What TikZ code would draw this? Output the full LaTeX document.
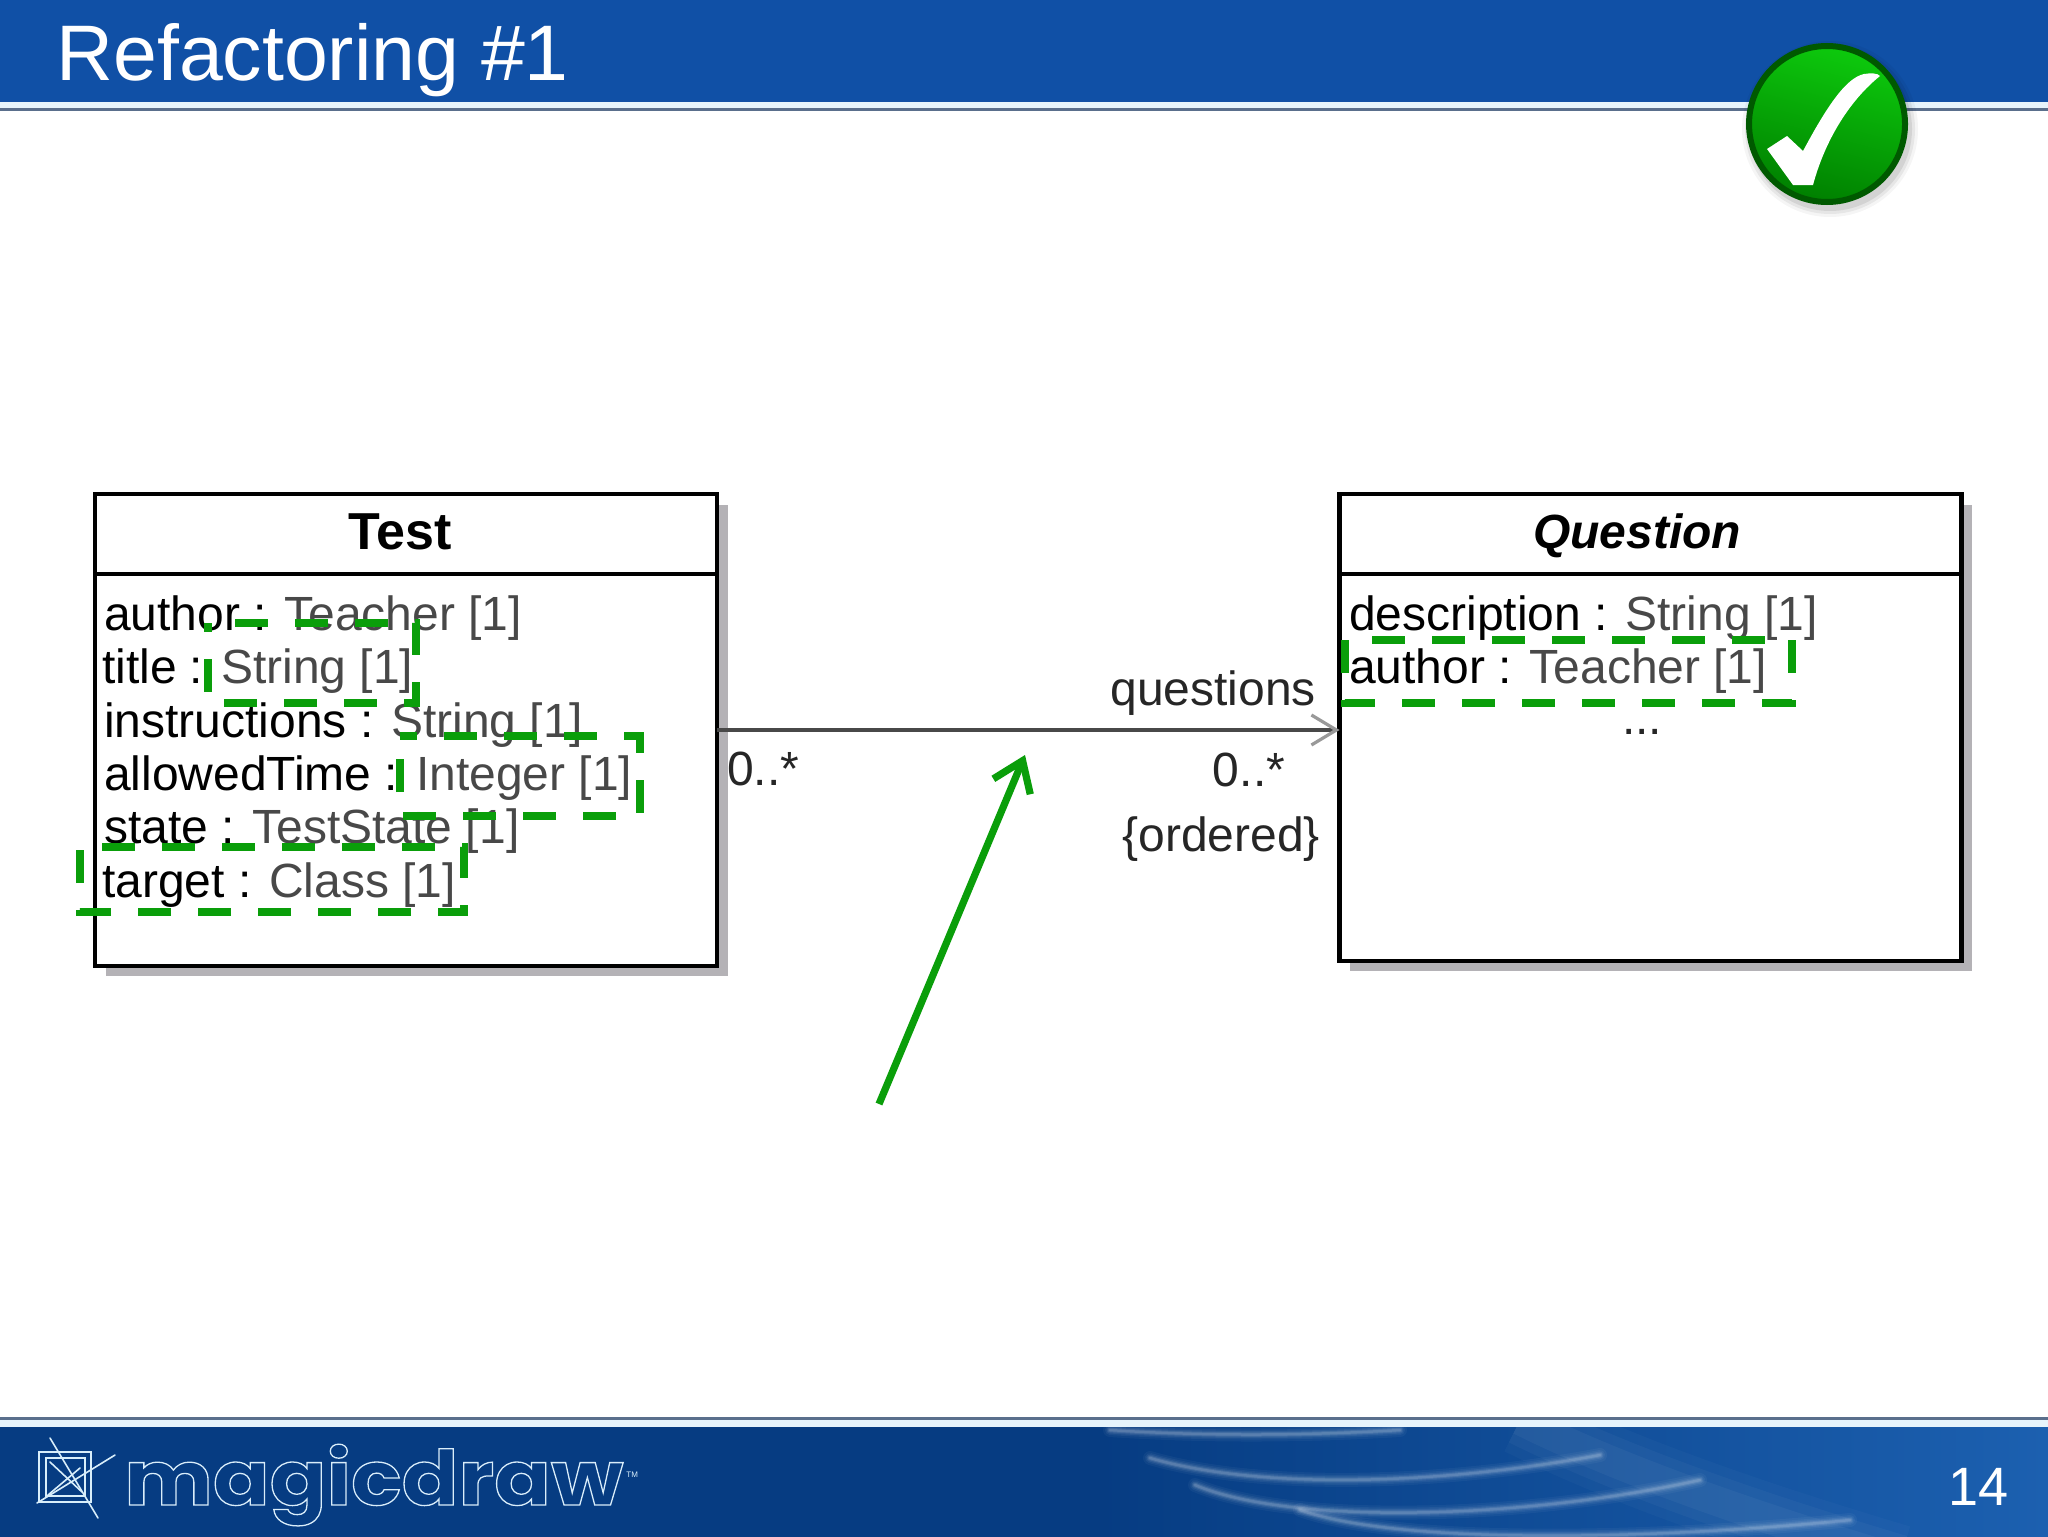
\documentclass[tikz,border=0pt]{standalone}
\usepackage{fontspec}
\setmainfont{Liberation Sans}
\newfontfamily\logofont[FakeBold=1.7,FakeStretch=1.1]{Poppins Bold}
\usetikzlibrary{arrows.meta,shadings}
\definecolor{hdrblue}{HTML}{1050A6}
\definecolor{ftrdark}{HTML}{063C82}
\definecolor{ftrlight}{HTML}{1C60B0}
\definecolor{rulegrey}{HTML}{5A6F8C}
\definecolor{lightrule}{HTML}{E6F4FC}
\definecolor{mkgreen}{HTML}{0A9E0A}
\definecolor{typegrey}{HTML}{484848}
\definecolor{shadowgrey}{HTML}{B4B2B6}
\definecolor{logoline}{HTML}{D8EEFA}
\pgfdeclarehorizontalshading{footerband}{100bp}{color(0bp)=(ftrdark); color(51.8bp)=(ftrdark); color(75bp)=(ftrlight); color(100bp)=(ftrlight)}
\newcommand{\attr}[2]{\textcolor{black}{#1 :} \textcolor{typegrey}{#2 [1]}}
\tikzset{
  classbox/.style={draw=black,line width=2.2pt,fill=white,inner sep=0pt,outer sep=0pt,minimum width=311pt},
  classline/.style={draw=black,line width=2.2pt},
  attrtext/.style={anchor=base west,inner sep=0pt,outer sep=0pt,font=\fontsize{24}{28}\selectfont},
  umltext/.style={inner sep=0pt,outer sep=0pt,font=\fontsize{24}{28}\selectfont,text=black!85},
  hilite/.style={draw=mkgreen,line width=3.6pt,dash pattern=on 16.5pt off 13.5pt},
  wave/.style={draw=white,line cap=round},
  logostroke/.style={draw=logoline,line width=0.8pt,line cap=round},
}
\begin{document}
\begin{tikzpicture}[x=0.5pt,y=-0.5pt]
\useasboundingbox (0,0) rectangle (2048,1536);
\fill[white] (0,0) rectangle (2048,1536);
% header
\fill[hdrblue] (0,0) rectangle (2048,102);
\fill[lightrule] (0,102) rectangle (2048,108);
\fill[rulegrey] (0,108) rectangle (2048,111);
\node[anchor=base west,inner sep=0pt,text=white,font=\fontsize{39.4}{44}\selectfont] (title) at (56,81) {Refactoring \#1};
% footer
\fill[rulegrey] (0,1417) rectangle (2048,1420);
\fill[lightrule] (0,1420) rectangle (2048,1427);
\shade[shading=footerband] (0,1427) rectangle (2048,1536);
\begin{scope}
\clip (0,1427) rectangle (2048,1536);
\foreach \w/\o in {70/0.025,50/0.03,30/0.04}{
  \draw[white,opacity=\o,line width=\w*0.5pt] (1520,1420) .. controls (1640,1480) and (1800,1530) .. (1900,1560);
}
\foreach \w/\o in {14/0.04,10/0.05,7/0.07,4.5/0.10,2.5/0.12}{
  \draw[wave,opacity=\o,line width=\w*0.5pt] (1110,1430) .. controls (1200,1436) and (1300,1436) .. (1400,1430);
  \draw[wave,opacity=\o,line width=\w*0.5pt] (1150,1458) .. controls (1260,1490) and (1440,1485) .. (1600,1455);
  \draw[wave,opacity=\o,line width=\w*0.5pt] (1195,1485) .. controls (1290,1525) and (1520,1520) .. (1700,1480);
  \draw[wave,opacity=\o,line width=\w*0.5pt] (1300,1510) .. controls (1400,1545) and (1650,1540) .. (1850,1520);
}
\end{scope}
% footer logo
\draw[logostroke] (39,1452) rectangle (91,1502);
\draw[logostroke] (50,1438) -- (98,1518);
\draw[logostroke] (115,1455) -- (37,1503);
\draw[logostroke] (46,1458) -- (85,1458) -- (85,1496) -- (46,1496) -- cycle;
\draw[logostroke] (50,1462) -- (82,1492);
\draw[logostroke] (48,1495) -- (80,1468);
\node[anchor=base west,inner sep=0pt,font=\fontsize{38}{44}\selectfont\logofont] (logo) at (124,1505) {\special{pdf:bcolor [0.024 0.235 0.51] [0.85 0.93 0.98]}magicdraw\special{pdf:ecolor}};
\node[anchor=base west,inner sep=0pt,text=logoline,font=\fontsize{4}{5}\selectfont] (tm) at (626,1477) {TM};
\node[anchor=base east,inner sep=0pt,text=white,font=\fontsize{27}{30}\selectfont] (page) at (2009,1505) {14};
% class shadows
\fill[shadowgrey] (106,505) rectangle (728,976);
\fill[shadowgrey] (1350,505) rectangle (1972,971);
% classes
\node[classbox,minimum height=236pt] (test) at (406,730) {};
\node[classbox,minimum height=233.5pt] (question) at (1650.5,727.5) {};
\coordinate (testsplitL) at (95,574);
\coordinate (testsplitR) at (717,574);
\coordinate (qsplitL) at (1339,574);
\coordinate (qsplitR) at (1962,574);
\draw[classline] (testsplitL) -- (testsplitR);
\draw[classline] (qsplitL) -- (qsplitR);
\node[anchor=base,inner sep=0pt,font=\fontsize{26}{30}\selectfont\bfseries] (testname) at (400,549) {Test};
\node[anchor=base,inner sep=0pt,font=\fontsize{24}{28}\selectfont\bfseries\itshape] (qname) at (1637,548) {Question};
% attributes
\node[attrtext] (a1) at (104,630) {\attr{author}{Teacher}};
\node[attrtext] (a2) at (102,683) {\attr{title}{String}};
\node[attrtext] (a3) at (104,737) {\attr{instructions}{String}};
\node[attrtext] (a4) at (104,790) {\attr{allowedTime}{Integer}};
\node[attrtext] (a5) at (104,843) {\attr{state}{TestState}};
\node[attrtext] (a6) at (102,897) {\attr{target}{Class}};
\node[attrtext] (b1) at (1349,630) {\attr{description}{String}};
\node[attrtext] (b2) at (1349,683) {\attr{author}{Teacher}};
\node[umltext,anchor=base] (b3) at (1642,734) {...};
% connector
\draw[draw=typegrey,line width=1.6pt,-{Straight Barb[length=12.5pt,width=15pt,color=gray!80]}] (test.east) -- (test.east -| question.west);
\node[umltext,anchor=base east] (role) at (1316,705) {questions};
\node[umltext,anchor=base west] (m1) at (727,785) {0..*};
\node[umltext,anchor=base east] (m2) at (1285,786) {0..*};
\node[umltext,anchor=base east] (ord) at (1320,851) {\{ordered\}};
% highlight boxes
\draw[hilite,dash phase=16.5pt] (208,623) -- (416,623) -- (416,703) -- (208,703) -- cycle;
\draw[hilite,dash phase=8pt] (400,736) -- (640,736) -- (640,816) -- (400,816) -- cycle;
\draw[hilite,dash phase=19pt] (80,847) -- (464,847) -- (464,912) -- (80,912) -- cycle;
\draw[hilite,dash phase=16.5pt] (1345,640) -- (1792,640) -- (1792,703) -- (1345,703) -- cycle;
% pointer arrow
\coordinate (ptrfrom) at (879,1104);
\coordinate (ptrto) at (1025,755);
\draw[draw=mkgreen,line width=3.6pt,-{Straight Barb[length=14pt,width=20pt]}] (ptrfrom) -- (ptrto);
% check badge
\foreach \r/\o in {88/0.04,85/0.06,82/0.08}{
  \fill[black,opacity=\o] (1830,129) circle[radius=\r];
}
\shade[top color=green!78!black!95!white,bottom color=green!50!black,shading angle=-15,draw=green!35!black,line width=3pt] (1827,124) circle[radius=78];
\fill[white] (1767,149) -- (1787,136) -- (1803,151)
  .. controls (1825,110) and (1845,78) .. (1864,74)
  .. controls (1870,73) and (1878,73) .. (1880,76)
  .. controls (1850,100) and (1825,140) .. (1813,185)
  -- (1793,185) -- cycle;
\end{tikzpicture}
\end{document}
